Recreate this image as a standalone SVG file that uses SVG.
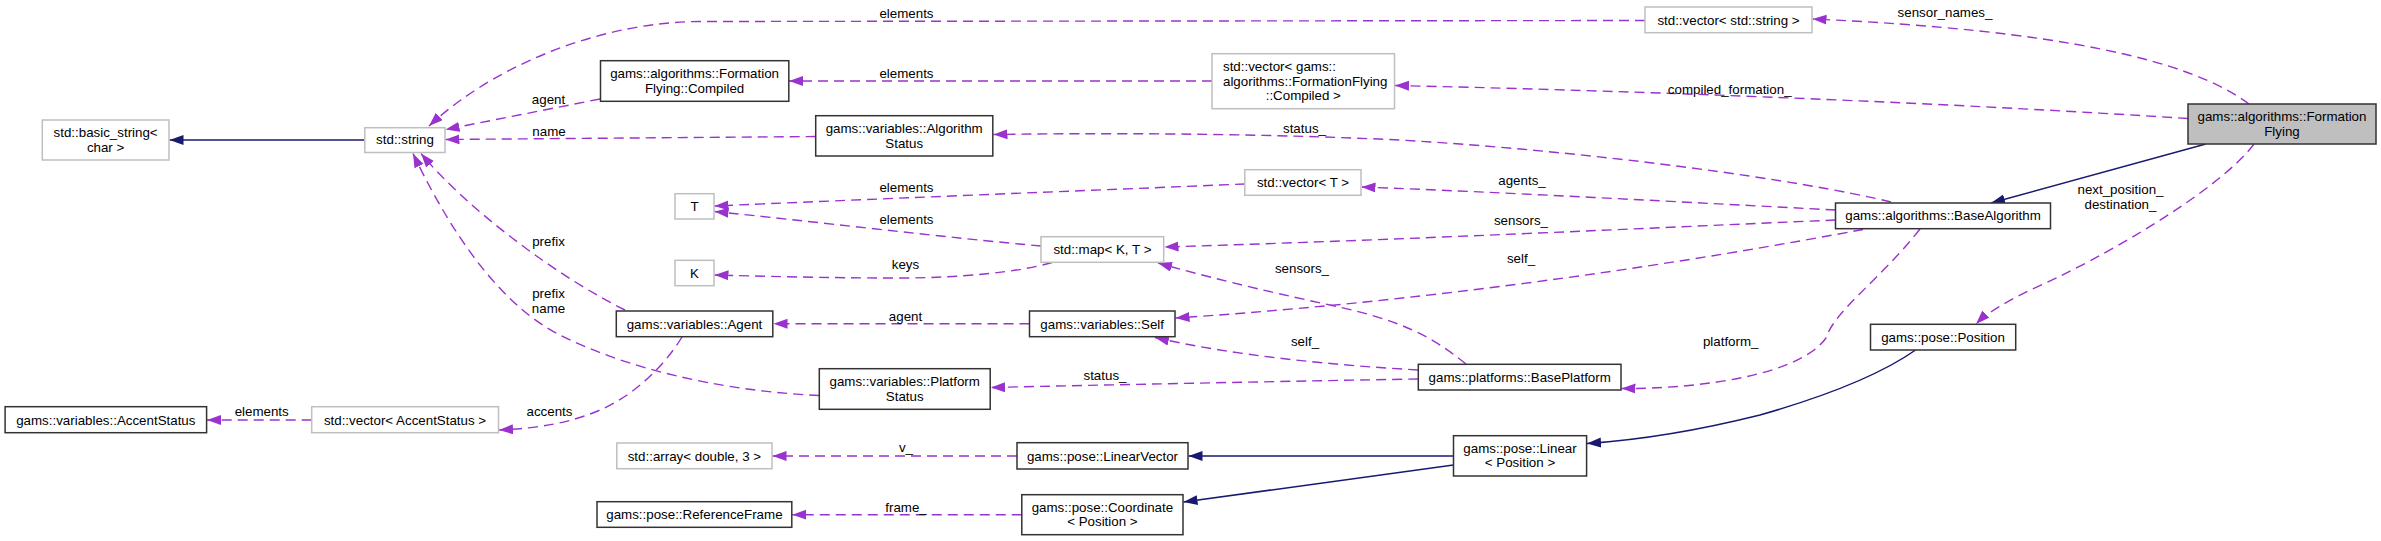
<svg xmlns="http://www.w3.org/2000/svg" width="2381" height="541" viewBox="0 0 2381 541">
<style>
text{font-family:"Liberation Sans",Arial,sans-serif;font-size:13.33px;fill:#000}
.c{text-anchor:middle}
.s{text-anchor:start}
rect.k{fill:#fff;stroke:#333;stroke-width:1.5}
rect.g{fill:#fff;stroke:#bfbfbf;stroke-width:1.5}
rect.f{fill:#bfbfbf;stroke:#333;stroke-width:1.5}
path.u{fill:none;stroke:#9a32cd;stroke-width:1.4;stroke-dasharray:10,6;marker-end:url(#pa)}
path.i{fill:none;stroke:#191970;stroke-width:1.5;marker-end:url(#na)}
</style>
<defs>
<marker id="pa" markerUnits="userSpaceOnUse" markerWidth="15" markerHeight="11" refX="14" refY="5" orient="auto"><path d="M0,0 L14,5 L0,10 z" fill="#9a32cd"/></marker>
<marker id="na" markerUnits="userSpaceOnUse" markerWidth="15" markerHeight="11" refX="14" refY="5" orient="auto"><path d="M0,0 L14,5 L0,10 z" fill="#191970"/></marker>
</defs>
<rect width="2381" height="541" fill="#fff"/>
<g id="edges">
<path class="u" d="M1645,20.5 L700,21.5 C610,21.5 500,60 429,126"/>
<path class="u" d="M600,99 L445.5,129.5"/>
<path class="u" d="M815.7,136.5 L445.5,139.5"/>
<path class="u" d="M625,310 C560,278 470,212 421,153.5"/>
<path class="u" d="M819,395.5 C740,392 640,375 560,335 C490,300 440,210 413,153.5"/>
<path class="u" d="M682,337 C665,365 635,395 600,410 C570,423 540,428 499,430"/>
<path class="u" d="M311.7,420 L207,420"/>
<path class="u" d="M1212,81 L789,81"/>
<path class="u" d="M1244.8,184 C1100,190 850,200 714.5,206"/>
<path class="u" d="M1041,246 C950,238 800,220 714.5,211.5"/>
<path class="u" d="M1052,262.5 C1020,272 960,278 900,278 C820,278 760,276 714.5,275"/>
<path class="u" d="M1835.4,210 C1700,203 1500,192 1361.5,187"/>
<path class="u" d="M1891,202 C1800,180 1600,152 1400,140 C1250,133 1100,133 993.5,134.5"/>
<path class="u" d="M1835.4,220 C1650,228 1400,240 1164.5,247"/>
<path class="u" d="M1863,229.5 C1700,260 1450,300 1175.5,318"/>
<path class="u" d="M1466,364 C1430,335 1400,320 1330,305 C1260,290 1200,275 1158,263"/>
<path class="u" d="M1418,370 C1330,365 1230,355 1155,337.5"/>
<path class="u" d="M1418,379 C1300,381 1100,385 991,387.5"/>
<path class="u" d="M1029.5,323.7 L773.5,323.7"/>
<path class="u" d="M1920,229 C1880,280 1835,310 1826,338 C1800,375 1700,389 1621.5,388.5"/>
<path class="u" d="M2254,144 C2220,190 2100,260 2030,290 C2000,305 1985,315 1976,324"/>
<path class="u" d="M2249,104 C2190,60 2060,30 1812.5,19"/>
<path class="u" d="M2188,118.5 C1900,100 1600,90 1395,85.5"/>
<path class="u" d="M1017,456 L772.5,456"/>
<path class="u" d="M1021.8,514.7 L792.3,514.7"/>
<path class="i" d="M364.8,140 L169.5,140"/>
<path class="i" d="M2205.8,144 L1991,203"/>
<path class="i" d="M1453.5,456 L1188.5,456"/>
<path class="i" d="M1453.5,465 L1183.5,502"/>
<path class="i" d="M1915.6,350 C1880,375 1830,395 1760,415 C1700,430 1640,440 1587,443.5"/>
</g>
<g id="labels">
<text class="c" x="906.5" y="17.7">elements</text>
<text class="c" x="1945" y="17">sensor_names_</text>
<text class="c" x="906.5" y="77.7">elements</text>
<text class="c" x="1729.7" y="94">compiled_formation_</text>
<text class="c" x="548.5" y="104">agent</text>
<text class="c" x="549" y="135.7">name</text>
<text class="c" x="1304.5" y="132.7">status_</text>
<text class="c" x="906.5" y="191.7">elements</text>
<text class="c" x="1522" y="185">agents_</text>
<text class="c" x="906.5" y="223.7">elements</text>
<text class="c" x="1521" y="225">sensors_</text>
<text class="c" x="2120.5" y="194">next_position_</text>
<text class="c" x="2120.5" y="208.7">destination_</text>
<text class="c" x="548.5" y="245.7">prefix</text>
<text class="c" x="1521" y="263.3">self_</text>
<text class="c" x="905.5" y="269">keys</text>
<text class="c" x="1302" y="272.7">sensors_</text>
<text class="c" x="548.5" y="297.7">prefix</text>
<text class="c" x="548.5" y="312.7">name</text>
<text class="c" x="905.5" y="320.7">agent</text>
<text class="c" x="1305" y="345.5">self_</text>
<text class="c" x="1730.7" y="345.7">platform_</text>
<text class="c" x="1105" y="380.3">status_</text>
<text class="c" x="549.5" y="415.7">accents</text>
<text class="c" x="261.7" y="416.3">elements</text>
<text class="c" x="906" y="452.3">v_</text>
<text class="c" x="906" y="511.7">frame_</text>
</g>
<g id="n1"><rect class="f" x="2188" y="104" width="188" height="40"/><text class="c" x="2282" y="121">gams::algorithms::Formation</text><text class="c" x="2282" y="135.5">Flying</text></g>
<g id="n2"><rect class="k" x="1835.5" y="203" width="215" height="25.7"/><text class="c" x="1943" y="220">gams::algorithms::BaseAlgorithm</text></g>
<g id="n3"><rect class="k" x="815.7" y="115.7" width="177.1" height="40.3"/><text class="c" x="904.2" y="132.7">gams::variables::Algorithm</text><text class="c" x="904.2" y="147.7">Status</text></g>
<g id="n4"><rect class="g" x="364.8" y="127.7" width="80.2" height="24.8"/><text class="c" x="405" y="144.3">std::string</text></g>
<g id="n5"><rect class="g" x="42.3" y="120" width="126.7" height="40"/><text class="c" x="105.6" y="137">std::basic_string&lt;</text><text class="c" x="105.6" y="152">char &gt;</text></g>
<g id="n6"><rect class="k" x="600.5" y="60.7" width="188.3" height="40.6"/><text class="c" x="694.6" y="77.7">gams::algorithms::Formation</text><text class="c" x="694.6" y="92.7">Flying::Compiled</text></g>
<g id="n7"><rect class="g" x="1212" y="53.7" width="182.5" height="55"/><text class="s" x="1223" y="70.7">std::vector&lt; gams::</text><text class="s" x="1223" y="85.7">algorithms::FormationFlying</text><text class="c" x="1303.3" y="100">::Compiled &gt;</text></g>
<g id="n8"><rect class="g" x="1645" y="7" width="167" height="25.7"/><text class="c" x="1728.5" y="24.5">std::vector&lt; std::string &gt;</text></g>
<g id="n9"><rect class="g" x="1244.8" y="169.7" width="116.2" height="25.6"/><text class="c" x="1303" y="187">std::vector&lt; T &gt;</text></g>
<g id="n10"><rect class="g" x="675" y="193.7" width="39" height="25.3"/><text class="c" x="694.5" y="211">T</text></g>
<g id="n11"><rect class="g" x="1041" y="236.7" width="122.7" height="25.6"/><text class="c" x="1102.4" y="254">std::map&lt; K, T &gt;</text></g>
<g id="n12"><rect class="g" x="675" y="260.3" width="39" height="25.4"/><text class="c" x="694.5" y="278">K</text></g>
<g id="n13"><rect class="k" x="1029.5" y="311" width="145.5" height="25.7"/><text class="c" x="1102.2" y="328.5">gams::variables::Self</text></g>
<g id="n14"><rect class="k" x="616.3" y="311" width="156.5" height="25.7"/><text class="c" x="694.5" y="328.5">gams::variables::Agent</text></g>
<g id="n15"><rect class="g" x="311.7" y="406.7" width="186.8" height="26"/><text class="c" x="405" y="424.5">std::vector&lt; AccentStatus &gt;</text></g>
<g id="n16"><rect class="k" x="5.1" y="406.7" width="201.5" height="26"/><text class="c" x="105.8" y="424.5">gams::variables::AccentStatus</text></g>
<g id="n17"><rect class="k" x="819.3" y="368.7" width="170.9" height="40.6"/><text class="c" x="904.7" y="385.7">gams::variables::Platform</text><text class="c" x="904.7" y="400.7">Status</text></g>
<g id="n18"><rect class="k" x="1418.3" y="364.3" width="202.7" height="25.7"/><text class="c" x="1519.7" y="382">gams::platforms::BasePlatform</text></g>
<g id="n19"><rect class="k" x="1870.5" y="324.3" width="145.2" height="25.7"/><text class="c" x="1943" y="341.8">gams::pose::Position</text></g>
<g id="n20"><rect class="k" x="1453.5" y="435.7" width="133.1" height="40.3"/><text class="c" x="1520" y="452.7">gams::pose::Linear</text><text class="c" x="1520" y="467.3">&lt; Position &gt;</text></g>
<g id="n21"><rect class="k" x="1017" y="442.7" width="171" height="26.3"/><text class="c" x="1102.5" y="460.5">gams::pose::LinearVector</text></g>
<g id="n22"><rect class="k" x="1021.8" y="494.7" width="161.2" height="40"/><text class="c" x="1102.4" y="511.7">gams::pose::Coordinate</text><text class="c" x="1102.4" y="525.7">&lt; Position &gt;</text></g>
<g id="n23"><rect class="g" x="616.8" y="443" width="155.2" height="25.7"/><text class="c" x="694.4" y="460.5">std::array&lt; double, 3 &gt;</text></g>
<g id="n24"><rect class="k" x="597" y="501.7" width="194.8" height="25.6"/><text class="c" x="694.4" y="519">gams::pose::ReferenceFrame</text></g>
</svg>
